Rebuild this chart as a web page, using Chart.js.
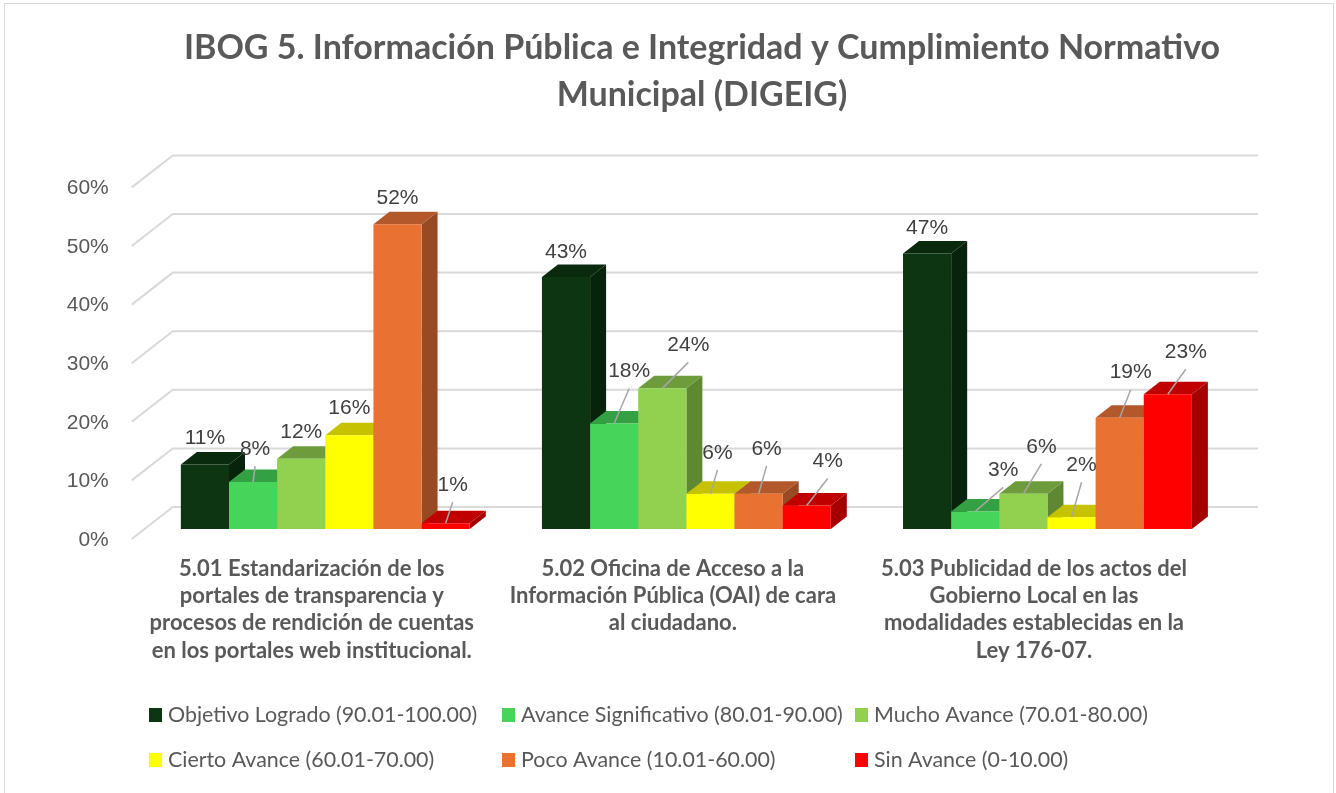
<!DOCTYPE html>
<html><head><meta charset="utf-8">
<script src="https://cdn.jsdelivr.net/npm/chart.js@4.4.1/dist/chart.umd.min.js"></script>
<style>html,body{margin:0;padding:0;background:#fff;}#wrap{width:1336px;height:793px;position:relative;}canvas{display:block;}</style>
</head><body><div id="wrap"><canvas id="c" width="1336" height="793"></canvas></div>
<script>
// ---------- data ----------
const titleLines = ["IBOG 5. Información Pública e Integridad y Cumplimiento Normativo", "Municipal (DIGEIG)"];
const categories = [
  ["5.01 Estandarización de los", "portales de transparencia y", "procesos de rendición de cuentas", "en los portales web institucional."],
  ["5.02 Oficina de Acceso a la", "Información Pública (OAI) de cara", "al ciudadano."],
  ["5.03 Publicidad de los actos del", "Gobierno Local en las", "modalidades establecidas en la", "Ley 176-07."]
];
const seriesNames = [
  "Objetivo Logrado (90.01-100.00)",
  "Avance Significativo (80.01-90.00)",
  "Mucho Avance (70.01-80.00)",
  "Cierto Avance (60.01-70.00)",
  "Poco Avance (10.01-60.00)",
  "Sin Avance (0-10.00)"
];
const objetivoLogrado     = [11, 43, 47];
const avanceSignificativo = [8, 18, 3];
const muchoAvance         = [12, 24, 6];
const ciertoAvance        = [16, 6, 2];
const pocoAvance          = [52, 6, 19];
const sinAvance           = [1, 4, 23];
const yTickValues = [0, 10, 20, 30, 40, 50, 60];

// ---------- styles ----------
const frontColors = ["#0d3512", "#47d45a", "#92d050", "#ffff00", "#e97132", "#ff0000"];
const topColors   = ["#0a2a0e", "#34a044", "#6e9c3c", "#c6c200", "#b3582a", "#c00000"];
const sideColors  = ["#08230b", "#2e8c3d", "#5f8833", "#a8a500", "#984a22", "#a50000"];
// data-label nudges [dx, dy] in px from each bar's top centre (series x category)
const labelNudge = [
  [[0,-26],[0,-25],[0,-25]],
  [[2,-33],[15,-52],[28,-41]],
  [[0,-26],[26,-43],[18,-47]],
  [[0,-27],[7,-41],[10,-52]],
  [[0,-26],[8,-45],[11,-45]],
  [[7,-38],[21,-44],[18,-42]]
];
const DX = 16, DY = -12.5;

const seriesValues = [objetivoLogrado, avanceSignificativo, muchoAvance, ciertoAvance, pocoAvance, sinAvance];

const bar3d = {
  id: 'bar3d',
  beforeDatasetsDraw(chart) {
    const {ctx, chartArea: a, scales: {y}} = chart;
    ctx.save();
    ctx.strokeStyle = '#d9d9d9';
    ctx.lineWidth = 2;
    y.ticks.forEach(t => {
      const py = y.getPixelForValue(t.value);
      ctx.beginPath();
      ctx.moveTo(a.left - 13, py + 10);
      ctx.lineTo(a.left + 28, py - 22);
      ctx.lineTo(a.right + 30, py - 22);
      ctx.stroke();
    });
    chart.data.datasets.forEach((ds, i) => {
      const meta = chart.getDatasetMeta(i);
      meta.data.forEach(el => {
        const p = el.getProps(['x', 'y', 'base', 'width'], true);
        const l = p.x - p.width / 2, r = p.x + p.width / 2, top = p.y, base = p.base;
        ctx.fillStyle = sideColors[i];
        ctx.beginPath();
        ctx.moveTo(r, base); ctx.lineTo(r + DX, base + DY); ctx.lineTo(r + DX, top + DY); ctx.lineTo(r, top);
        ctx.closePath(); ctx.fill();
        ctx.fillStyle = topColors[i];
        ctx.beginPath();
        ctx.moveTo(l, top); ctx.lineTo(l + DX, top + DY); ctx.lineTo(r + DX, top + DY); ctx.lineTo(r, top);
        ctx.closePath(); ctx.fill();
        el.draw(ctx, a);
      });
    });
    ctx.restore();
    return false;
  },
  afterDraw(chart) {
    const ctx = chart.ctx;
    ctx.save();
    // border
    ctx.strokeStyle = '#d9d9d9'; ctx.lineWidth = 1;
    ctx.strokeRect(4.5, 3.5, 1329, 800);
    // title
    ctx.fillStyle = '#595959';
    ctx.font = 'bold 34px Lato';
    ctx.textAlign = 'center'; ctx.textBaseline = 'alphabetic';
    ctx.fillText(titleLines[0], 702, 59);
    ctx.fillText(titleLines[1], 702, 106);
    // data labels
    ctx.font = '21px "Liberation Sans"';
    ctx.textBaseline = 'middle';
    chart.data.datasets.forEach((ds, i) => {
      const meta = chart.getDatasetMeta(i);
      meta.data.forEach((el, j) => {
        const p = el.getProps(['x', 'y'], true);
        const [dx, dy] = labelNudge[i][j];
        const lx = p.x + dx, ly = p.y + dy;
        if (dy < -30) {
          ctx.strokeStyle = '#a6a6a6'; ctx.lineWidth = 1.5;
          ctx.beginPath(); ctx.moveTo(lx, ly + 17); ctx.lineTo(p.x, p.y); ctx.stroke();
        }
        ctx.fillStyle = '#404040';
        ctx.fillText(Math.round(ds.data[j]) + '%', lx, ly);
      });
    });
    // legend
    const cols = [149, 502, 855], rows = [715, 760];
    ctx.font = '21.4px Lato';
    ctx.textAlign = 'left'; ctx.textBaseline = 'alphabetic';
    seriesNames.forEach((n, i) => {
      const cx = cols[i % 3], cy = rows[Math.floor(i / 3)];
      ctx.fillStyle = frontColors[i];
      ctx.fillRect(cx, cy - 7, 13, 14);
      ctx.fillStyle = '#595959';
      ctx.fillText(n, cx + 19, cy + 7);
    });
    ctx.restore();
  }
};

new Chart(document.getElementById('c'), {
  type: 'bar',
  data: {
    labels: categories,
    datasets: seriesValues.map((vals, i) => ({
      label: seriesNames[i],
      data: vals,
      backgroundColor: frontColors[i],
      borderWidth: 0,
      categoryPercentage: 0.8,
      barPercentage: 1.0
    }))
  },
  options: {
    responsive: false,
    animation: false,
    devicePixelRatio: 1,
    layout: { padding: { top: 177.4, right: 108, bottom: 0, left: 0 } },
    plugins: { legend: { display: false }, title: { display: false }, tooltip: { enabled: false } },
    scales: {
      x: {
        grid: { display: false, drawTicks: false },
        border: { display: false },
        ticks: {
          padding: 26,
          labelOffset: -13.5,
          maxRotation: 0,
          autoSkip: false,
          color: '#595959',
          font: { family: 'Lato', size: 22, weight: 'bold', lineHeight: 1.24 }
        },
        afterFit(s) { s.height = 264; }
      },
      y: {
        min: 0, max: 60,
        grid: { display: false, drawTicks: false },
        border: { display: false },
        afterBuildTicks(s) { s.ticks = yTickValues.map(v => ({ value: v })); },
        ticks: {
          padding: 36,
          labelOffset: 11,
          color: '#595959',
          font: { family: 'Liberation Sans', size: 21 },
          callback: v => v + '%'
        },
        afterFit(s) { s.width = 144.75; }
      }
    }
  },
  plugins: [bar3d]
});
</script>
</body></html>
